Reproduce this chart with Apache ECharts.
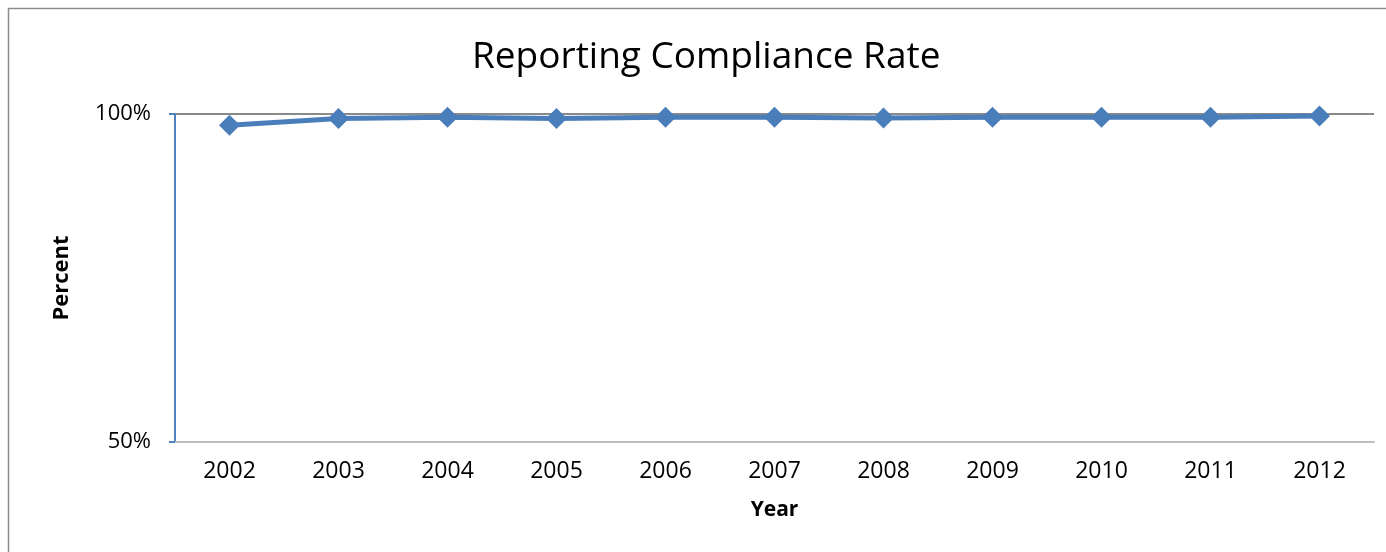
<!DOCTYPE html>
<html>
<head>
<meta charset="utf-8">
<script src="https://cdn.jsdelivr.net/npm/echarts@6/dist/echarts.min.js"></script>
<style>
  html, body { margin: 0; padding: 0; background: #fff; }
  #chart { width: 1386px; height: 552px; }
</style>
</head>
<body>
<div id="chart"></div>
<script>
// chart data
var years = ['2002', '2003', '2004', '2005', '2006', '2007', '2008', '2009', '2010', '2011', '2012'];
var complianceRate = [98.3, 99.3, 99.5, 99.3, 99.5, 99.5, 99.4, 99.5, 99.5, 99.5, 99.7];
var yTicks = [50, 100];

var chart = echarts.init(document.getElementById('chart'));
var fontFamily = '"Open Sans", "Noto Sans", sans-serif';

var option = {
    animation: false,
    // outer chart-area border, runs off the right and bottom edges
    graphic: [{
        type: 'rect',
        shape: { x: 8.5, y: 8.5, width: 1420, height: 620 },
        style: { fill: 'none', stroke: '#8c8c8c', lineWidth: 1.5 },
        silent: true
    }],
    title: {
        text: 'Reporting Compliance Rate',
        left: 467,
        top: 34,
        textStyle: { fontFamily: fontFamily, fontSize: 37, fontWeight: 'normal', color: '#000' }
    },
    grid: { left: 175, right: 12, top: 114, bottom: 110 },
    xAxis: {
        type: 'category',
        data: years,
        boundaryGap: true,
        name: 'Year',
        nameLocation: 'middle',
        nameGap: 58,
        nameTextStyle: { fontFamily: fontFamily, fontSize: 21, fontWeight: 'bold', color: '#000' },
        axisLine: { show: true, lineStyle: { color: '#bfbfbf', width: 2 } },
        axisTick: { show: false },
        axisLabel: { fontFamily: fontFamily, fontSize: 23, color: '#000', margin: 18 }
    },
    yAxis: {
        type: 'value',
        min: yTicks[0],
        max: yTicks[1],
        interval: yTicks[1] - yTicks[0],
        name: 'Percent',
        nameLocation: 'middle',
        nameRotate: 90,
        nameGap: 102,
        nameTextStyle: { fontFamily: fontFamily, fontSize: 22, fontWeight: 'bold', color: '#000' },
        axisLine: { show: true, lineStyle: { color: '#4f81bd', width: 2 } },
        axisTick: { show: true, length: 6, lineStyle: { color: '#4f81bd', width: 2 } },
        axisLabel: {
            fontFamily: fontFamily, fontSize: 22, color: '#000', margin: 24,
            formatter: function (v) { return v + '%'; }
        },
        splitLine: { show: true, lineStyle: { color: ['#bfbfbf', '#8a8a8a'], width: 2 } }
    },
    series: [{
        name: 'Compliance Rate',
        type: 'line',
        data: complianceRate,
        symbol: 'diamond',
        symbolSize: 21,
        showAllSymbol: true,
        lineStyle: { color: '#4a7ebb', width: 5 },
        itemStyle: { color: '#4a7ebb' }
    }]
};

chart.setOption(option);
</script>
</body>
</html>
